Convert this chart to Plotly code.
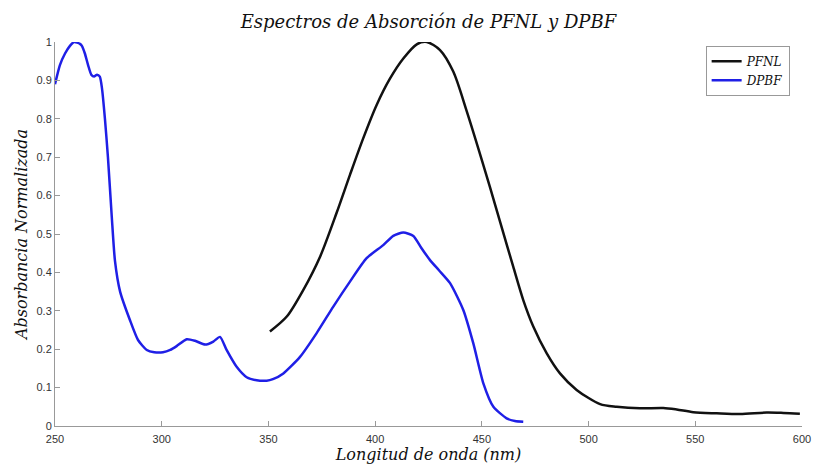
import plotly.graph_objects as go

# DPBF (blue) spectrum
dpbf_x = [250, 252.3, 254.7, 257, 259, 261.7, 262.6, 264, 265.5, 267, 268.3, 269.7, 271, 272, 273.4,
          274.8, 276.6, 278.1, 280.5, 285.1, 288.9, 293, 296.5, 300.6, 304, 307, 311.7, 315.6, 320.3,
          324.2, 327.3, 330.4, 335.1, 339.8, 344.5, 349.2, 352.1, 357, 364.8, 372.6, 380.4, 388.2,
          396, 403.8, 408.5, 413.2, 417.9, 421.5, 425.7, 430, 435.1, 441.3, 446, 450.7, 455.4,
          461.6, 465.5, 469.4]
dpbf_y = [0.89, 0.94, 0.97, 0.99, 1.0, 0.995, 0.99, 0.97, 0.94, 0.915, 0.91, 0.915, 0.91, 0.88, 0.80,
          0.70, 0.545, 0.43, 0.35, 0.276, 0.224, 0.198, 0.192, 0.192, 0.198, 0.208, 0.226, 0.222, 0.212,
          0.22, 0.232, 0.198, 0.154, 0.127, 0.119, 0.118, 0.122, 0.137, 0.18, 0.242, 0.311, 0.376,
          0.437, 0.471, 0.495, 0.504, 0.495, 0.465, 0.432, 0.405, 0.372, 0.302, 0.215, 0.111, 0.05,
          0.02, 0.013, 0.011]

# PFNL (black) spectrum
pfnl_x = [350.7, 358.6, 366.3, 374.2, 382, 388.2, 394.4, 400.7, 407, 413.2, 419.5, 424.2, 430.4,
          436.6, 442.9, 453.8, 459.3, 464.7, 469.4, 474.1, 480.4, 486.6, 494.4, 505.4, 513.2,
          524.1, 535, 541.3, 549.1, 560, 571, 583.5, 591.3, 599]
pfnl_y = [0.246, 0.285, 0.354, 0.441, 0.556, 0.654, 0.749, 0.836, 0.905, 0.957, 0.994, 1.0, 0.979,
          0.923, 0.82, 0.622, 0.517, 0.415, 0.328, 0.259, 0.189, 0.137, 0.094, 0.057, 0.05,
          0.046, 0.047, 0.043, 0.036, 0.033, 0.031, 0.035, 0.034, 0.032]

x_ticks = [250, 300, 350, 400, 450, 500, 550, 600]
y_ticks = [0, 0.1, 0.2, 0.3, 0.4, 0.5, 0.6, 0.7, 0.8, 0.9, 1]
y_tick_labels = ["0", "0.1", "0.2", "0.3", "0.4", "0.5", "0.6", "0.7", "0.8", "0.9", "1"]

serif = "DejaVu Serif, Liberation Serif, serif"
sans = "Liberation Sans, Arial, sans-serif"

fig = go.Figure()
fig.add_trace(go.Scatter(x=pfnl_x, y=pfnl_y, mode="lines", name="<i>PFNL</i>",
                         line=dict(color="#111111", width=2.5, shape="spline", smoothing=0.8)))
fig.add_trace(go.Scatter(x=dpbf_x, y=dpbf_y, mode="lines", name="<i>DPBF</i>",
                         line=dict(color="#1f1fe6", width=2.5, shape="spline", smoothing=0.6)))

fig.update_layout(
    width=813, height=466,
    margin=dict(l=55, r=11, t=42, b=40, autoexpand=False),
    paper_bgcolor="white", plot_bgcolor="white",
    title=dict(text="<i>Espectros de Absorción de PFNL y DPBF</i>",
               x=0.527, xanchor="center", y=0.953, yanchor="middle",
               font=dict(family=serif, size=18, color="#111111")),
    showlegend=True,
    legend=dict(x=0.871, y=0.99, xanchor="left", yanchor="top",
                bgcolor="white", bordercolor="#999999", borderwidth=1,
                font=dict(family=serif, size=12, color="#111111"),
                tracegroupgap=0, itemwidth=30),
    xaxis=dict(range=[250, 600], tickvals=x_ticks, showgrid=False, zeroline=False,
               showline=True, linecolor="#999999", linewidth=1, automargin=False,
               ticks="inside", ticklen=5, tickcolor="#999999", ticklabelstandoff=3,
               tickfont=dict(family=sans, size=11, color="#333333"),
               title=dict(text="<i>Longitud de onda (nm)</i>", standoff=0,
                          font=dict(family=serif, size=16, color="#111111"))),
    yaxis=dict(range=[0, 1], tickvals=y_ticks, ticktext=y_tick_labels, showgrid=False, zeroline=False,
               showline=True, linecolor="#999999", linewidth=1, automargin=False,
               ticks="inside", ticklen=5, tickcolor="#999999",
               tickfont=dict(family=sans, size=11, color="#333333"),
               title=dict(text="<i>Absorbancia Normalizada</i>", standoff=4,
                          font=dict(family=serif, size=16, color="#111111"))),
)

fig.write_html("out.html")
